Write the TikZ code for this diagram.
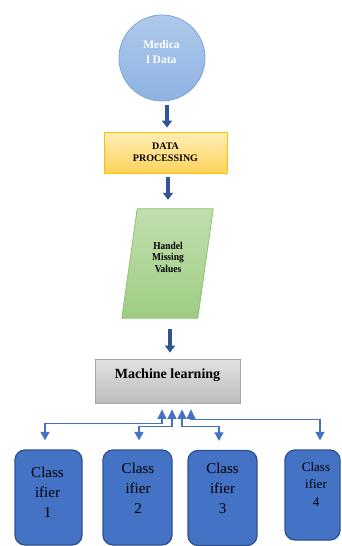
\documentclass[tikz,border=0pt]{standalone}
\usepackage{fontspec}
\setmainfont{Liberation Serif}
\newfontfamily\narrowserif{Liberation Serif}[FakeStretch=0.9]
\usetikzlibrary{arrows.meta}
\definecolor{navy}{HTML}{2F5597}
\definecolor{linkblue}{HTML}{4472C4}
\definecolor{clsfill}{HTML}{4472C4}
\definecolor{clsedge}{HTML}{2F528F}
\definecolor{medtop}{HTML}{AEC9EA}
\definecolor{medbot}{HTML}{8DB3E2}
\definecolor{mededge}{HTML}{7FA7D8}
\definecolor{dpedge}{HTML}{FFC000}
\definecolor{dptop}{HTML}{FFEDB5}
\definecolor{dpbot}{HTML}{FFD45E}
\definecolor{hmedge}{HTML}{8CC472}
\definecolor{hmtop}{HTML}{C2DFAE}
\definecolor{hmbot}{HTML}{9ECC84}
\definecolor{mledge}{HTML}{A6A6A6}
\definecolor{mltop}{HTML}{E2E2E2}
\definecolor{mlbot}{HTML}{BCBCBC}
\tikzset{
  medcircle/.style={circle, minimum size=86pt, inner sep=0pt, draw=mededge,
    top color=medtop, bottom color=medbot, line width=0.8pt},
  dpbox/.style={rectangle, minimum width=123pt, minimum height=41pt, inner sep=0pt,
    draw=dpedge, line width=0.8pt, top color=dptop, bottom color=dpbot,
    align=center, font=\bfseries\fontsize{10}{12}\selectfont},
  hmframe/.style={rectangle, minimum width=91pt, minimum height=109pt, inner sep=0pt},
  hmshape/.style={draw=hmedge, line width=0.8pt, top color=hmtop, bottom color=hmbot},
  mlbox/.style={rectangle, minimum width=145pt, minimum height=44pt, inner sep=0pt,
    draw=mledge, line width=0.8pt, top color=mltop, bottom color=mlbot},
  clsbox/.style={rectangle, rounded corners=10pt, minimum height=95pt, inner sep=0pt,
    fill=clsfill, draw=clsedge, line width=1.3pt},
  clstext/.style={align=center, inner sep=0pt, font=\fontsize{15}{20}\selectfont},
  bigarrow/.style={draw=navy, line width=4.5pt, -{Triangle[width=10pt,length=7pt]}},
  link/.style={draw=linkblue, line width=1.2pt,
    {Triangle[width=9pt,length=9.5pt]}-{Triangle[width=9pt,length=8.5pt]}}
}
\begin{document}
\begin{tikzpicture}[x=1pt,y=-1pt]
\useasboundingbox[fill=white] (0,0) rectangle (342,546);

% flow boxes
\node[medcircle] (med) at (162,58) {};
\node[align=center, text=white, inner sep=0pt, font=\bfseries\fontsize{11.5}{15}\selectfont]
  (medtxt) at (161.5,52) {Medica\\l Data};

\node[dpbox] (dp) at (165.5,152.5) {DATA\\PROCESSING};

% slanted input/output box
\node[hmframe] (hm) at (167.5,263.5) {};
\path[hmshape] (hm.south west) -- ([xshift=76pt]hm.south west)
  -- (hm.north east) -- ([xshift=-76pt]hm.north east) -- cycle;
\node[align=center, inner sep=0pt, font=\narrowserif\bfseries\fontsize{10.5}{11.5}\selectfont]
  (hmtxt) at (168,257) {Handel\\Missing\\Values};

\node[mlbox] (ml) at (167.5,381) {};
\node[inner sep=0pt, font=\bfseries\fontsize{14}{16}\selectfont] (mltxt) at (167.5,375.5) {Machine learning};

% classifiers
\node[clsbox, minimum width=67pt] (c1) at (48.5,497.5) {};
\node[clsbox, minimum width=69pt] (c2) at (137.5,497.5) {};
\node[clsbox, minimum width=69pt] (c3) at (222.5,498) {};
\node[clsbox, minimum width=55pt, minimum height=90pt] (c4) at (312.5,495) {};
\node[clstext] (t1) at (47.5,492) {Class\\ifier\\1};
\node[clstext] (t2) at (138,488) {Class\\ifier\\2};
\node[clstext] (t3) at (222.5,488) {Class\\ifier\\3};
\node[clstext, font=\fontsize{13}{17.5}\selectfont] (t4) at (316,484) {Class\\ifier\\4};

% main flow arrows
\draw[bigarrow] ([xshift=5pt,yshift=-4pt]med.south) -- ([xshift=1.5pt,yshift=4pt]dp.north);
\draw[bigarrow] ([xshift=2.5pt,yshift=-4pt]dp.south) -- ([xshift=0.5pt,yshift=9pt]hm.north);
\draw[bigarrow] ([xshift=2.5pt,yshift=-11pt]hm.south) -- ([xshift=2.5pt,yshift=6pt]ml.north);

% links between machine learning and classifiers
\coordinate (u1) at ([xshift=-5.5pt,yshift=-6pt]ml.south);
\coordinate (u2) at ([xshift=4.5pt,yshift=-6pt]ml.south);
\coordinate (u3) at ([xshift=14.5pt,yshift=-6pt]ml.south);
\coordinate (u4) at ([xshift=23.5pt,yshift=-6pt]ml.south);
\draw[link] (u1) -- ++(0,14) -| ([xshift=-3.5pt,yshift=9pt]c1.north);
\draw[link] (u2) -- ++(0,17) -| ([xshift=1.5pt,yshift=9pt]c2.north);
\draw[link] (u3) -- ++(0,17) -| ([xshift=-3.5pt,yshift=9pt]c3.north);
\draw[link] (u4) -- ++(0,10) -| ([xshift=7.5pt,yshift=9pt]c4.north);
\end{tikzpicture}
\end{document}
